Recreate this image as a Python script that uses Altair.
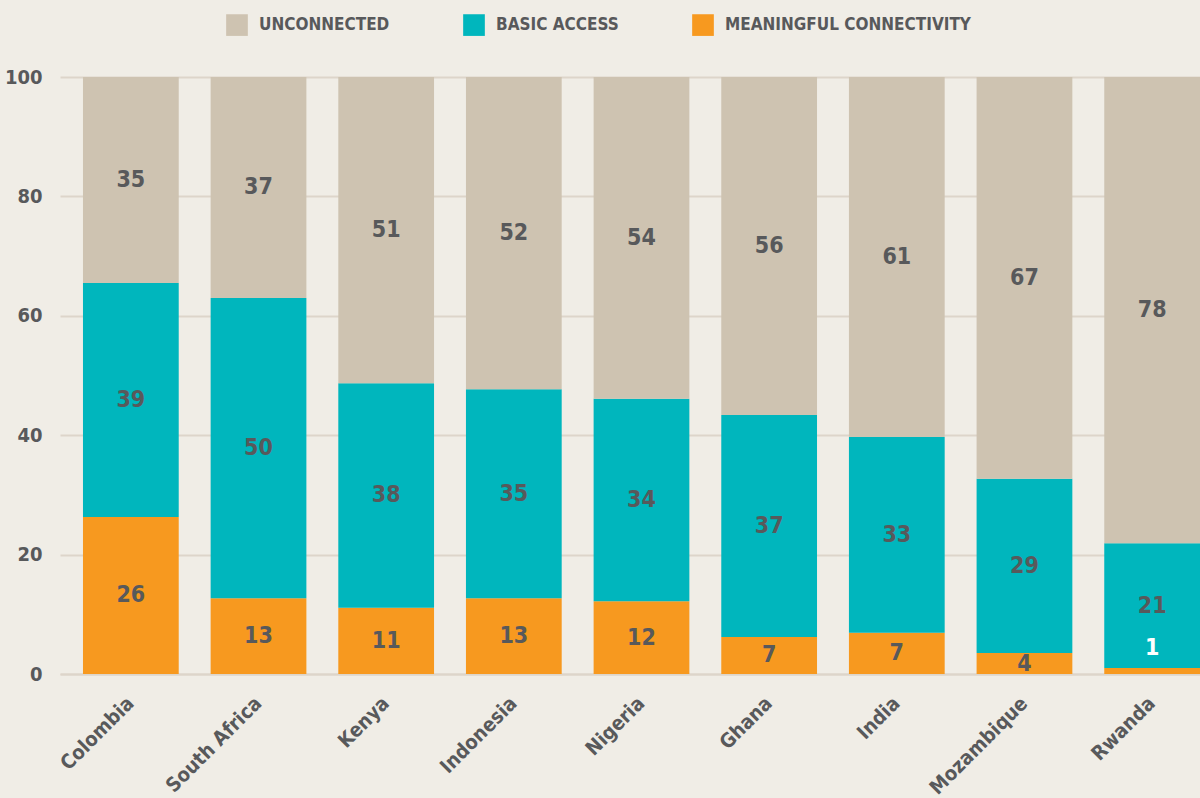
import altair as alt
import pandas as pd

countries = ["Colombia", "South Africa", "Kenya", "Indonesia", "Nigeria",
             "Ghana", "India", "Mozambique", "Rwanda"]
categories = ["UNCONNECTED", "BASIC ACCESS", "MEANINGFUL CONNECTIVITY"]
colors = ["#CEC3B1", "#00B6BD", "#F7991F"]

meaningful = [26.3, 12.7, 11.1, 12.7, 12.2, 6.2, 6.9, 3.5, 1.0]
basic = [39.2, 50.3, 37.6, 35.0, 33.9, 37.2, 32.8, 29.2, 20.9]
unconnected = [34.5, 37.0, 51.3, 52.3, 53.9, 56.6, 60.3, 67.3, 78.1]

meaningful_lbl = [26, 13, 11, 13, 12, 7, 7, 4, 1]
basic_lbl = [39, 50, 38, 35, 34, 37, 33, 29, 21]
unconnected_lbl = [35, 37, 51, 52, 54, 56, 61, 67, 78]

rows = []
for i, c in enumerate(countries):
    for order, (cat, vals, lbls) in enumerate([
        ("MEANINGFUL CONNECTIVITY", meaningful, meaningful_lbl),
        ("BASIC ACCESS", basic, basic_lbl),
        ("UNCONNECTED", unconnected, unconnected_lbl),
    ]):
        rows.append({"country": c, "category": cat, "value": vals[i],
                     "label": str(lbls[i]), "order": order})
df = pd.DataFrame(rows)

FONT = "DejaVu Sans Condensed"
GRAY = "#58595B"
GRID = "#DDD5CA"

base = alt.Chart(df).transform_stack(
    stack="value", as_=["y0", "y1"], groupby=["country"],
    sort=[alt.SortField("order", order="ascending")]
).transform_calculate(mid="(datum.y0 + datum.y1) / 2")

xenc = alt.X("country:N", sort=countries, title=None,
             scale=alt.Scale(paddingInner=0.25, paddingOuter=0.09, align=1),
             axis=alt.Axis(labelAngle=-45, labelAlign="right",
                           labelBaseline="middle", labelFont=FONT,
                           labelFontSize=20, labelFontWeight="bold",
                           labelColor=GRAY, ticks=False, domainColor=GRID,
                           domainWidth=2, labelPadding=26, grid=False))

bars = base.mark_bar().encode(
    x=xenc,
    y=alt.Y("y0:Q", title=None, scale=alt.Scale(domain=[0, 100]),
            axis=alt.Axis(values=[0, 20, 40, 60, 80, 100], labelFont=FONT,
                          labelFontSize=20, labelFontWeight="bold",
                          labelColor=GRAY, ticks=False, domain=False,
                          gridColor=GRID, gridWidth=2, labelPadding=18)),
    y2="y1:Q",
    color=alt.Color("category:N",
                    scale=alt.Scale(domain=categories, range=colors),
                    legend=alt.Legend(title=None, orient="none",
                                      direction="horizontal", legendX=166,
                                      legendY=-63, symbolType="square",
                                      symbolSize=470, symbolStrokeWidth=0,
                                      labelFont=FONT, labelFontSize=17,
                                      labelFontWeight="bold", labelColor=GRAY,
                                      labelLimit=0,
                                      columnPadding=73, labelOffset=11)),
)

labels = base.transform_filter("datum.value >= 2").mark_text(
    font=FONT, fontSize=23, fontWeight="bold", color=GRAY, baseline="middle"
).encode(x=alt.X("country:N", sort=countries), y="mid:Q", text="label:N")

small = base.transform_filter("datum.value < 2").mark_text(
    font=FONT, fontSize=23, fontWeight="bold", color="white",
    baseline="middle", dy=-20
).encode(x=alt.X("country:N", sort=countries), y="y1:Q", text="label:N")

chart = alt.layer(bars, labels, small).properties(
    width=1140, height=597,
    background="#F0EDE6",
    padding={"left": 60, "top": 77, "right": 0, "bottom": 124},
    autosize=alt.AutoSizeParams(type="none"),
).configure_view(stroke=None)

chart.save("out.html", embed_options={"renderer": "svg", "actions": False})
